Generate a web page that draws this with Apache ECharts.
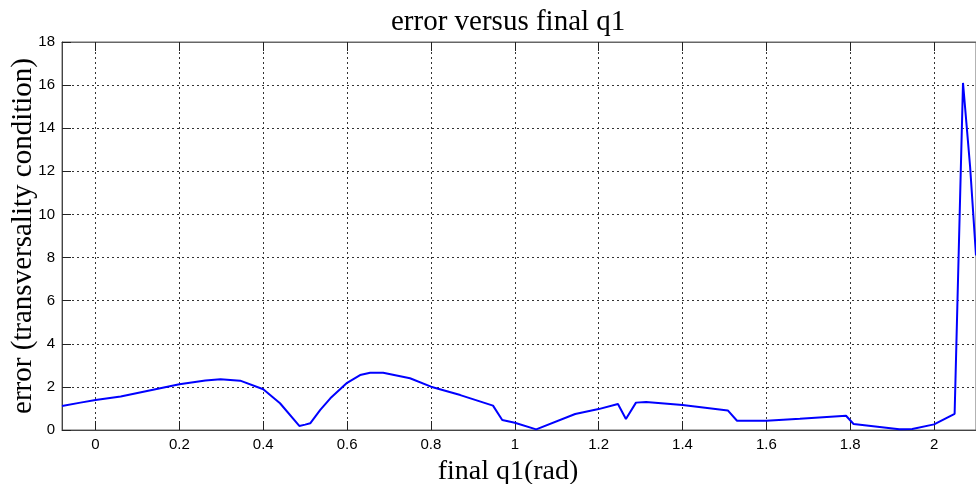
<!DOCTYPE html>
<html>
<head>
<meta charset="utf-8">
<script src="https://cdn.jsdelivr.net/npm/echarts@6/dist/echarts.min.js"></script>
<style>
  html, body { margin: 0; padding: 0; background: #fff; }
  #chart { width: 976px; height: 484px; }
</style>
</head>
<body>
<div id="chart"></div>
<script>
// Final joint angle q1 (rad) and the transversality-condition error at each
const q1Values = [-0.08, -0.036, 0, 0.06, 0.2, 0.262, 0.298, 0.345, 0.4, 0.44, 0.486, 0.5, 0.512,
  0.536, 0.56, 0.6, 0.631, 0.655, 0.686, 0.75, 0.8, 0.87, 0.948, 0.97, 1.0, 1.051, 1.144, 1.2,
  1.246, 1.265, 1.289, 1.313, 1.4, 1.508, 1.53, 1.6, 1.68, 1.79, 1.808, 1.917, 1.948, 2.0, 2.049,
  2.069, 2.086, 2.1];
const errValues = [1.11, 1.27, 1.39, 1.55, 2.12, 2.30, 2.35, 2.29, 1.89, 1.24, 0.19, 0.25, 0.31,
  0.93, 1.47, 2.19, 2.55, 2.66, 2.66, 2.40, 2.01, 1.62, 1.13, 0.46, 0.34, 0.03, 0.74, 0.97,
  1.21, 0.51, 1.27, 1.30, 1.16, 0.91, 0.43, 0.43, 0.52, 0.66, 0.28, 0.03, 0.05, 0.26, 0.75,
  16.1, 12.2, 8.1];

// Tick positions
const xTicks = [0, 0.2, 0.4, 0.6, 0.8, 1, 1.2, 1.4, 1.6, 1.8, 2];

const serif = '"Liberation Serif", "Times New Roman", serif';
const sans = '"Liberation Sans", Arial, sans-serif';

const dotted = { color: '#333', width: 1, type: [2, 3] };

const chart = echarts.init(document.getElementById('chart'), null, { renderer: 'canvas' });
chart.setOption({
  animation: false,
  backgroundColor: '#fff',
  title: {
    text: 'error versus final q1',
    left: 386,
    top: 3,
    textStyle: { fontFamily: serif, fontSize: 29, fontWeight: 'normal', color: '#000' }
  },
  grid: {
    left: 62, right: 0, top: 42, bottom: 54,
    outerBoundsMode: 'none',
    containLabel: false,
    show: true, borderColor: '#666', borderWidth: 1, backgroundColor: '#fff'
  },
  xAxis: [{
    type: 'value',
    min: -0.08,
    max: 2.1,
    name: 'final q1(rad)',
    nameLocation: 'middle',
    nameGap: 28,
    nameTextStyle: { fontFamily: serif, fontSize: 28, color: '#000', padding: [0, 22, 0, 0] },
    axisLine: { show: true, onZero: false, lineStyle: { color: '#444', width: 1 } },
    axisTick: { show: true, inside: true, length: 9, customValues: xTicks, lineStyle: { color: '#222' } },
    axisLabel: { customValues: xTicks, fontFamily: sans, fontSize: 15, color: '#000', margin: 7,
      formatter: v => String(Math.round(v * 10) / 10) },
    splitLine: { show: true, lineStyle: dotted }
  }, {
    type: 'value',
    position: 'top',
    min: -0.08,
    max: 2.1,
    axisLine: { show: true, onZero: false, lineStyle: { color: '#666', width: 1 } },
    axisTick: { show: true, inside: true, length: 9, customValues: xTicks, lineStyle: { color: '#222' } },
    axisLabel: { show: false },
    splitLine: { show: false }
  }],
  yAxis: {
    type: 'value',
    min: 0,
    max: 18,
    interval: 2,
    name: 'error (transversality condition)',
    nameLocation: 'middle',
    nameMoveOverlap: false,
    nameGap: 24,
    nameTextStyle: { fontFamily: serif, fontSize: 29, color: '#000' },
    axisLine: { show: true, onZero: false, lineStyle: { color: '#444', width: 1 } },
    axisTick: { show: true, inside: true, length: 9, lineStyle: { color: '#222' } },
    axisLabel: { fontFamily: sans, fontSize: 15, color: '#000', margin: 7 },
    splitLine: { show: true, lineStyle: dotted }
  },
  series: [{
    type: 'line',
    xAxisIndex: 0,
    data: q1Values.map((q, i) => [q, errValues[i]]),
    showSymbol: false,
    smooth: false,
    clip: true,
    lineStyle: { color: '#0000ff', width: 2 },
    itemStyle: { color: '#0000ff' }
  }]
});
</script>
</body>
</html>
